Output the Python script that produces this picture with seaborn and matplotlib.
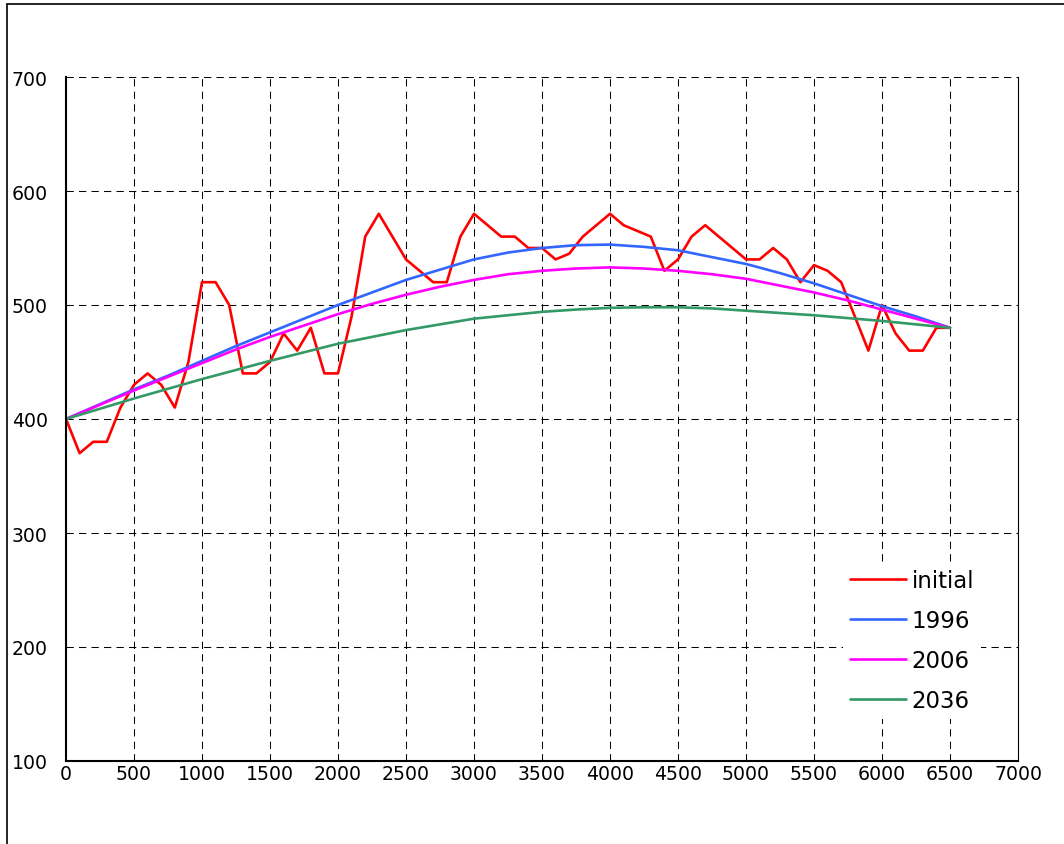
import numpy as np
import pandas as pd
import matplotlib
matplotlib.use("Agg")
import matplotlib.pyplot as plt
from matplotlib.lines import Line2D
import seaborn as sns

# Measured profile (every 100 m) and the three modelled profiles (every 250 m)
x_initial = list(range(0, 6600, 100))
y_initial = [400, 370, 380, 380, 410, 430, 440, 430, 410, 450,
             520, 520, 500, 440, 440, 450, 475, 460, 480, 440,
             440, 490, 560, 580, 560, 540, 530, 520, 520, 560,
             580, 570, 560, 560, 550, 550, 540, 545, 560, 570,
             580, 570, 565, 560, 530, 540, 560, 570, 560, 550,
             540, 540, 550, 540, 520, 535, 530, 520, 490, 460,
             500, 475, 460, 460, 480, 480]

x_model = list(range(0, 6750, 250))
y_1996 = [400, 413, 426, 438, 451, 464, 476, 488, 500, 511, 522, 531, 540, 546,
          550, 552.5, 553, 551, 548, 542, 536, 528, 519, 509, 499, 490, 480]
y_2006 = [400, 412.5, 425, 437, 449, 461, 472, 482, 492, 501, 509, 516, 522, 527,
          530, 532, 533, 532, 530, 527, 523, 517, 511, 504, 496, 488, 480]
y_2036 = [400, 409, 418, 426.5, 435, 443, 451, 458.5, 466, 472, 478, 483, 488, 491,
          494, 496, 497.5, 498, 498, 497, 495, 493, 491, 488.5, 486, 483, 480]

series_names = ["initial", "1996", "2006", "2036"]
series_colors = ["#FF0000", "#3366FF", "#FF00FF", "#339966"]

x_ticks = list(range(0, 7500, 500))
y_ticks = list(range(100, 800, 100))

frames = [pd.DataFrame({"x": x_initial, "y": y_initial, "series": "initial"})]
for name, ys in zip(series_names[1:], [y_1996, y_2006, y_2036]):
    frames.append(pd.DataFrame({"x": x_model, "y": ys, "series": name}))
df = pd.concat(frames, ignore_index=True)

sns.set_style("white")
plt.rcParams["font.family"] = ["DejaVu Sans"]
plt.rcParams["text.color"] = "black"

W, H = 1064, 845
fig = plt.figure(figsize=(W / 100, H / 100), dpi=100)
ax = fig.add_axes([66 / W, 1 - 762 / H, (1018 - 66) / W, (762 - 78) / H])

sns.lineplot(data=df, x="x", y="y", hue="series", hue_order=series_names,
             palette=series_colors, linewidth=1.9, ax=ax, estimator=None,
             sort=False, legend=True)

ax.set_xlim(0, 7000)
ax.set_ylim(100, 700)
ax.set_xticks(x_ticks)
ax.set_yticks(y_ticks)
ax.set_xlabel("")
ax.set_ylabel("")

# dashed grid
for xv in x_ticks[1:-1]:
    ax.axvline(xv, color="black", lw=0.75, dashes=(7, 5), zorder=0.5)
for yv in y_ticks[1:]:
    ax.axhline(yv, color="black", lw=0.75, dashes=(7, 5), zorder=0.5)

for side in ["left", "bottom"]:
    ax.spines[side].set_color("black")
    ax.spines[side].set_linewidth(1.5)
ax.spines["right"].set_visible(True)
ax.spines["right"].set_color("black")
ax.spines["right"].set_linewidth(0.8)
ax.spines["top"].set_visible(False)

ax.tick_params(axis="both", direction="out", width=0.8,
               colors="black", labelsize=13.6)
ax.tick_params(axis="y", length=5, pad=8)
ax.tick_params(axis="x", length=3, pad=-0.5)

leg = ax.legend(loc="upper left", bbox_to_anchor=(843 / W, 1 - 563 / H),
                bbox_transform=fig.transFigure, frameon=True,
                facecolor="white", edgecolor="none", framealpha=1,
                fancybox=False, fontsize=16.5, handlelength=2.45,
                handletextpad=0.25, labelspacing=0.74, borderpad=0.3,
                borderaxespad=0)
for h in leg.get_lines():
    h.set_linewidth(1.9)
for t in leg.get_texts():
    t.set_color("black")

# chart area outline (left and top edges)
fig.add_artist(Line2D([7 / W, 7 / W], [0, 1 - 5 / H], color="black", lw=1.2,
                      transform=fig.transFigure))
fig.add_artist(Line2D([7 / W, 1], [1 - 5 / H, 1 - 5 / H], color="black", lw=1.2,
                      transform=fig.transFigure))

fig.savefig("out.png", dpi=100)
